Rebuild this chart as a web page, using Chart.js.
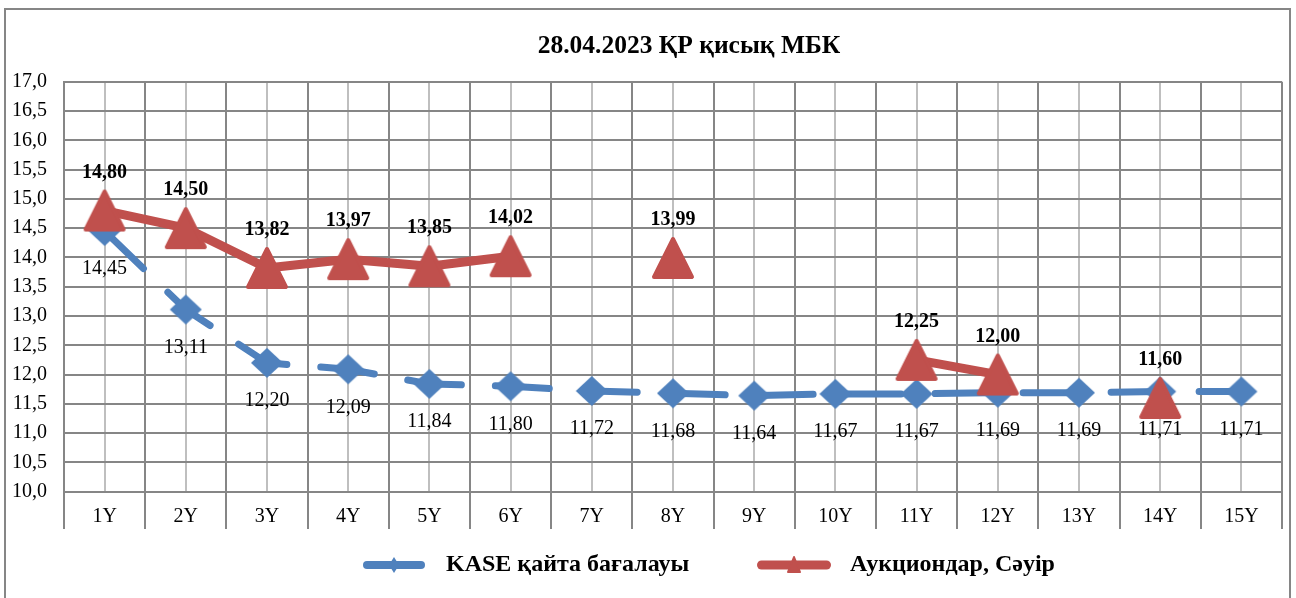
<!DOCTYPE html>
<html><head><meta charset="utf-8">
<script src="https://cdn.jsdelivr.net/npm/chart.js@4.4.0/dist/chart.umd.min.js"></script>
<style>html,body{margin:0;padding:0;background:#fff;overflow:hidden}#wrap{width:1296px;height:598px;position:relative}</style>
</head><body><div id="wrap"><canvas id="c" width="1296" height="598"></canvas></div>
<script>
// ---- data ----
const categories = ['1Y','2Y','3Y','4Y','5Y','6Y','7Y','8Y','9Y','10Y','11Y','12Y','13Y','14Y','15Y'];
const kaseValues = [14.45, 13.11, 12.20, 12.09, 11.84, 11.80, 11.72, 11.68, 11.64, 11.67, 11.67, 11.69, 11.69, 11.71, 11.71];
const auctionValues = [14.80, 14.50, 13.82, 13.97, 13.85, 14.02, null, 13.99, null, null, 12.25, 12.00, null, 11.60, null];
const yTickLabels = ['10,0','10,5','11,0','11,5','12,0','12,5','13,0','13,5','14,0','14,5','15,0','15,5','16,0','16,5','17,0'];
const seriesNames = ['KASE қайта бағалауы', 'Аукциондар, Сәуір'];
const chartTitle = '28.04.2023 ҚР қисық МБК';

// ---- styles ----
const BLUE = '#4F81BD', RED = '#C0504D';
const GRID_DARK = '#868686', GRID_LIGHT = '#BFBFBF';
const FONT = "'Liberation Serif', 'Times New Roman', serif";

function makeCanvas(w, h, draw) { const c = document.createElement('canvas'); c.width = w; c.height = h; draw(c.getContext('2d')); return c; }
const diamondIcon = makeCanvas(34, 32, ctx => {
  ctx.fillStyle = BLUE; ctx.beginPath();
  ctx.moveTo(17, 1); ctx.lineTo(33, 16); ctx.lineTo(17, 31); ctx.lineTo(1, 16); ctx.closePath(); ctx.fill();
});
const triangleIcon = makeCanvas(46, 46, ctx => {
  ctx.fillStyle = RED; ctx.strokeStyle = RED; ctx.lineWidth = 4; ctx.lineJoin = 'round';
  ctx.beginPath(); ctx.moveTo(23, 4); ctx.lineTo(42, 42); ctx.lineTo(4, 42); ctx.closePath(); ctx.fill(); ctx.stroke();
});
const blueLegendIcon = makeCanvas(64, 22, ctx => {
  ctx.strokeStyle = BLUE; ctx.lineWidth = 8; ctx.lineCap = 'round';
  ctx.beginPath(); ctx.moveTo(5, 11); ctx.lineTo(59, 11); ctx.stroke();
  ctx.fillStyle = BLUE; ctx.beginPath();
  ctx.moveTo(32, 3); ctx.lineTo(37, 11); ctx.lineTo(32, 19); ctx.lineTo(27, 11); ctx.closePath(); ctx.fill();
});
const redLegendIcon = makeCanvas(84, 22, ctx => {
  ctx.strokeStyle = RED; ctx.lineWidth = 9; ctx.lineCap = 'round';
  ctx.beginPath(); ctx.moveTo(5.5, 11); ctx.lineTo(70.5, 11); ctx.stroke();
  ctx.fillStyle = RED; ctx.lineWidth = 2; ctx.lineJoin = 'round';
  ctx.beginPath(); ctx.moveTo(38, 3); ctx.lineTo(44, 18); ctx.lineTo(32, 18); ctx.closePath(); ctx.fill(); ctx.stroke();
});
const legendIcons = [blueLegendIcon, redLegendIcon];

// layout targets
const LEGEND_START_X = 354, LEGEND_MID_Y = 565, LEGEND_BOX_W = 80, RED_TEXT_X = 850;
const TITLE_CENTER_X = 689;

const mctx = document.createElement('canvas').getContext('2d');
mctx.font = "bold 24px " + FONT;
const blueTextW = mctx.measureText(seriesNames[0]).width;
const legendPad = Math.max(10, (RED_TEXT_X - 12 - LEGEND_BOX_W) - (LEGEND_START_X + LEGEND_BOX_W + 12 + blueTextW));

Chart.defaults.font.family = FONT;
Chart.defaults.color = '#000';

const framePlugin = {
  id: 'frame',
  beforeDraw(chart) {
    const ctx = chart.ctx; ctx.save();
    ctx.fillStyle = '#fff'; ctx.fillRect(0, 0, chart.width, chart.height);
    ctx.strokeStyle = GRID_DARK; ctx.lineWidth = 2;
    ctx.strokeRect(5, 9, 1285, 600);
    ctx.restore();
  }
};
const placePlugin = {
  id: 'place',
  afterLayout(chart) {
    const lg = chart.legend;
    if (lg) { const P = lg.options.labels.padding; lg.left = LEGEND_START_X - P; lg.top = LEGEND_MID_Y - 12 - P; }
    const t = chart.titleBlock;
    if (t) { const s = TITLE_CENTER_X - (t.left + t.right) / 2; t.left += s; t.right += s; }
  }
};
const dataLabelPlugin = {
  id: 'dataLabels',
  afterDatasetsDraw(chart) {
    const ctx = chart.ctx;
    chart.data.datasets.forEach((ds, i) => {
      const meta = chart.getDatasetMeta(i);
      ctx.save();
      ctx.font = (ds.labelBold ? 'bold ' : '') + '20px ' + FONT;
      ctx.fillStyle = '#000'; ctx.textAlign = 'center'; ctx.textBaseline = 'middle';
      meta.data.forEach((pt, j) => {
        const v = ds.data[j];
        if (v === null || v === undefined) return;
        ctx.fillText(v.toFixed(2).replace('.', ','), pt.x, pt.y + ds.labelOffset);
      });
      ctx.restore();
    });
  }
};

new Chart(document.getElementById('c'), {
  type: 'line',
  data: {
    labels: categories,
    datasets: [
      { label: seriesNames[0], data: kaseValues, order: 2, borderColor: BLUE, backgroundColor: BLUE,
        borderWidth: 7, borderDash: [54, 34], borderCapStyle: 'round', borderJoinStyle: 'round',
        pointStyle: diamondIcon, pointRadius: 15, tension: 0, labelOffset: 38, labelBold: false },
      { label: seriesNames[1], data: auctionValues, order: 1, borderColor: RED, backgroundColor: RED,
        borderWidth: 9, borderCapStyle: 'round', borderJoinStyle: 'round', spanGaps: false,
        pointStyle: triangleIcon, pointRadius: 20, tension: 0, labelOffset: -38, labelBold: true }
    ]
  },
  options: {
    responsive: false, animation: false, events: [],
    layout: { autoPadding: false, padding: { top: 0, left: 0, right: 14, bottom: 0 } },
    plugins: {
      tooltip: { enabled: false },
      title: { display: true, text: chartTitle, color: '#000',
        font: { family: FONT, size: 25.5, weight: 'bold', lineHeight: 1.2 },
        padding: { top: 31.2, bottom: 19.9 } },
      legend: { display: true, position: 'bottom', align: 'start', maxHeight: 69,
        labels: { usePointStyle: true, pointStyleWidth: LEGEND_BOX_W, padding: legendPad, color: '#000',
          font: { family: FONT, size: 24, weight: 'bold' },
          generateLabels: (chart) => chart.data.datasets.map((ds, i) => ({
            text: ds.label, pointStyle: legendIcons[i], fillStyle: ds.borderColor, strokeStyle: ds.borderColor,
            lineWidth: 0, hidden: false, datasetIndex: i, fontColor: '#000' })) } }
    },
    scales: {
      x: { type: 'category', position: 'bottom', offset: true,
        grid: { offset: true, color: GRID_DARK, lineWidth: 2, drawTicks: true, tickLength: 37.3, tickColor: GRID_DARK, tickWidth: 2 },
        border: { color: GRID_DARK, width: 2 },
        ticks: { padding: -24, color: '#000', font: { family: FONT, size: 20 }, maxRotation: 0, autoSkip: false },
        afterFit: s => { s.height = 37.3; } },
      xc: { type: 'category', position: 'bottom', offset: true,
        grid: { offset: false, color: GRID_LIGHT, lineWidth: 2, drawTicks: false },
        border: { display: false }, ticks: { display: false },
        afterFit: s => { s.height = 0; } },
      y: { min: 10, max: 17,
        ticks: { stepSize: 0.5, padding: 17, color: '#000', font: { family: FONT, size: 20 },
          callback: (v, i) => yTickLabels[i] },
        grid: { color: GRID_DARK, lineWidth: 2, drawTicks: false },
        border: { color: GRID_DARK, width: 2 },
        afterFit: s => { s.width = 64; } }
    }
  },
  plugins: [framePlugin, placePlugin, dataLabelPlugin]
});
</script></body></html>
